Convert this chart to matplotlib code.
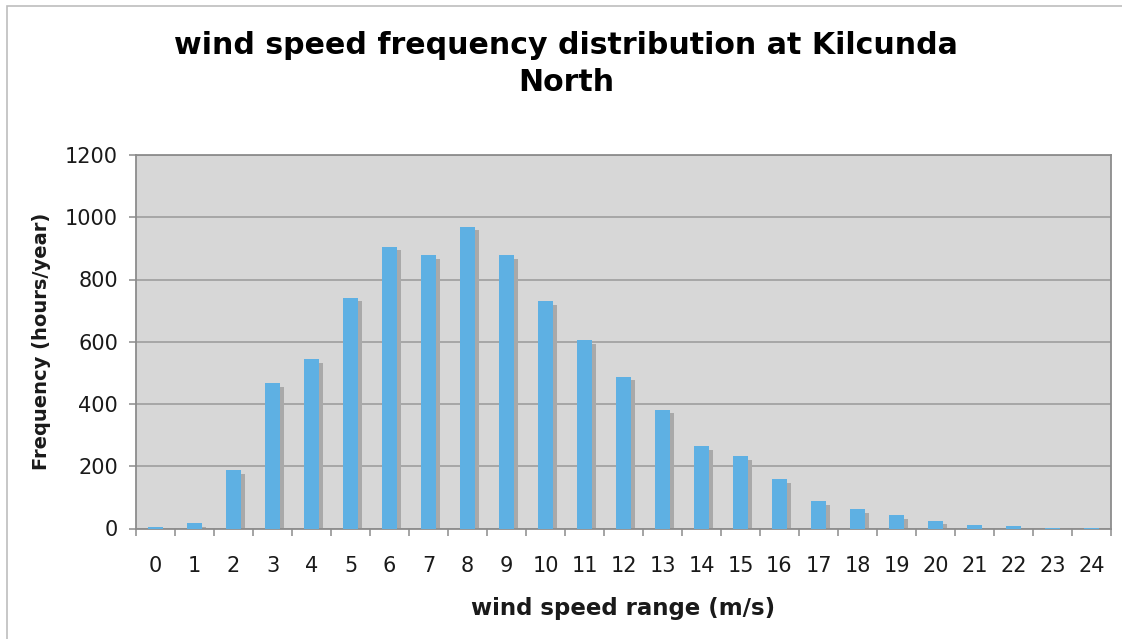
import matplotlib
matplotlib.use("Agg")
import matplotlib.pyplot as plt
import numpy as np
from matplotlib.patches import Rectangle

# Wind speed bins (m/s) and hours per year in each bin
speed_bins = list(range(0, 25))
hours_per_year = [4, 17, 187, 466, 544, 742, 906, 878, 970, 878, 730, 605,
                  487, 381, 264, 232, 158, 88, 62, 43, 24, 11, 8, 1, 3]

title_text = "wind speed frequency distribution at Kilcunda\nNorth"
x_label = "wind speed range (m/s)"
y_label = "Frequency (hours/year)"
y_ticks = [0, 200, 400, 600, 800, 1000, 1200]

bar_color = "#5eb0e3"
shadow_color = "#a9a9a9"
plot_bg = "#d7d7d7"
grid_color = "#a2a2a2"
text_color = "#1a1a1a"

fig = plt.figure(figsize=(11.22, 6.39), dpi=100)
fig.patch.set_facecolor("white")

# thin frame around the chart area
fig.add_artist(Rectangle((7 / 1122, -0.05), 1.2, 1 - 6 / 639 + 0.05,
                         transform=fig.transFigure, fill=False,
                         edgecolor="#bdbdbd", linewidth=1.2))

ax = fig.add_axes([136 / 1122, 1 - 528.5 / 639, (1111 - 136) / 1122, (528.5 - 155) / 639])
ax.set_facecolor(plot_bg)

x = np.array(speed_bins, dtype=float)
vals = np.array(hours_per_year, dtype=float)
width = 0.40

# drop shadow behind each bar
shadow_h = np.clip(vals - 11, 0, None)
ax.bar(x + 0.10, shadow_h, width=width, color=shadow_color, zorder=2, linewidth=0)
ax.bar(x, vals, width=width, color=bar_color, zorder=3, linewidth=0)

ax.set_xlim(-0.5, 24.5)
ax.set_ylim(0, 1200)
ax.set_yticks(y_ticks)
ax.yaxis.grid(True, color=grid_color, linewidth=1.3, zorder=1)
ax.set_axisbelow(True)

ax.set_xticks(x)
ax.set_xticklabels([str(s) for s in speed_bins])
ax.set_xticks(np.arange(-0.5, 25, 1.0), minor=True)
ax.tick_params(axis="x", which="major", length=0, pad=20, labelsize=15, labelcolor=text_color)
ax.tick_params(axis="x", which="minor", length=5, width=1.1, color="#8c8c8c", direction="out")
ax.tick_params(axis="y", length=5, width=1.1, color="#8c8c8c", pad=8,
               labelsize=15, labelcolor=text_color)

for side in ["left", "bottom", "top", "right"]:
    ax.spines[side].set_color("#8c8c8c")
    ax.spines[side].set_linewidth(1.3)

ax.set_xlabel(x_label, fontsize=16.5, fontweight="bold", color=text_color, labelpad=15)
ax.set_ylabel(y_label, fontsize=14, fontweight="bold", color=text_color, labelpad=10)

fig.text(566 / 1122, 1 - 64 / 639, title_text, ha="center", va="center",
         fontsize=21.6, fontweight="bold", color="black", linespacing=1.38)

fig.savefig("out.png", dpi=100, facecolor="white")
